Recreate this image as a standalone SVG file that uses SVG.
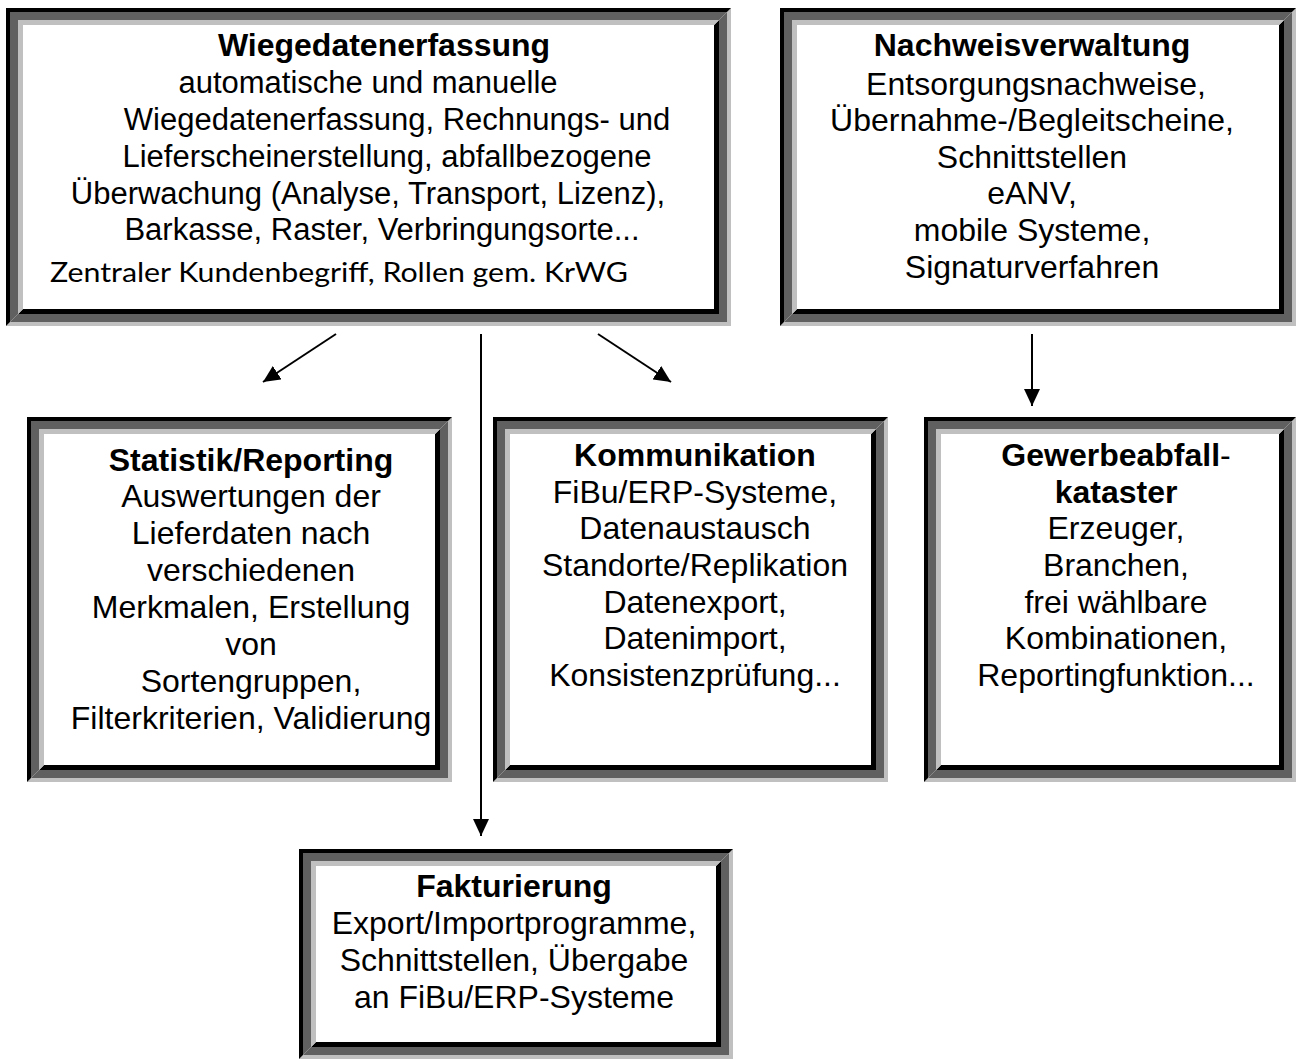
<svg xmlns="http://www.w3.org/2000/svg" width="1296" height="1060" viewBox="0 0 1296 1060">
<defs>
<style>
.k{fill:#000}.d{fill:#606060}.l{fill:#c0c0c0}
text{font-family:"Liberation Sans",Arial,sans-serif;fill:#000;text-anchor:middle}
.b{font-weight:bold}
.s30{font-size:31px}.s31{font-size:32px}
.gill{font-family:Lato,"Open Sans",sans-serif;font-size:26px;text-anchor:start}
.con line{stroke:#000;stroke-width:2}
</style>
<marker id="ah" markerUnits="userSpaceOnUse" markerWidth="18" markerHeight="16" refX="17" refY="8" orient="auto">
<path d="M0,0 L17,8 L0,16 z" fill="#000"/>
</marker>
</defs>
<rect width="1296" height="1060" fill="#fff"/>

<g id="wiegedatenerfassung">
<polygon class="l" points="731,8 731,326 6,326 10,322 727,322 727,12"/>
<polygon class="d" points="727,12 727,322 10,322 18,314 719,314 719,20"/>
<polygon class="k" points="719,20 719,314 18,314 23,309 714,309 714,25"/>
<polygon class="k" points="6,326 6,8 731,8 727,12 10,12 10,322"/>
<polygon class="d" points="10,322 10,12 727,12 719,20 18,20 18,314"/>
<polygon class="l" points="18,314 18,20 719,20 714,25 23,25 23,309"/>
<text class="b s31" x="384" y="56">Wiegedatenerfassung</text>
<text class="s30" x="368" y="93">automatische und manuelle</text>
<text class="s30" x="397" y="130">Wiegedatenerfassung, Rechnungs- und</text>
<text class="s30" x="387" y="167">Lieferscheinerstellung, abfallbezogene</text>
<text class="s30" x="368" y="204">Überwachung (Analyse, Transport, Lizenz),</text>
<text class="s30" x="382" y="240">Barkasse, Raster, Verbringungsorte...</text>
<text class="gill" x="50" y="282" textLength="578" lengthAdjust="spacingAndGlyphs">Zentraler Kundenbegriff, Rollen gem. KrWG</text>
</g>

<g id="nachweisverwaltung">
<polygon class="l" points="1296,8 1296,326 780,326 784,322 1292,322 1292,12"/>
<polygon class="d" points="1292,12 1292,322 784,322 792,314 1284,314 1284,20"/>
<polygon class="k" points="1284,20 1284,314 792,314 797,309 1279,309 1279,25"/>
<polygon class="k" points="780,326 780,8 1296,8 1292,12 784,12 784,322"/>
<polygon class="d" points="784,322 784,12 1292,12 1284,20 792,20 792,314"/>
<polygon class="l" points="792,314 792,20 1284,20 1279,25 797,25 797,309"/>
<text class="b s31" x="1032" y="56">Nachweisverwaltung</text>
<text class="s31" x="1036" y="95">Entsorgungsnachweise,</text>
<text class="s31" x="1032" y="131">Übernahme-/Begleitscheine,</text>
<text class="s31" x="1032" y="168">Schnittstellen</text>
<text class="s31" x="1032" y="204">eANV,</text>
<text class="s31" x="1032" y="241">mobile Systeme,</text>
<text class="s31" x="1032" y="278">Signaturverfahren</text>
</g>

<g id="statistik">
<polygon class="l" points="452,417 452,782 27,782 31,778 448,778 448,421"/>
<polygon class="d" points="448,421 448,778 31,778 39,770 440,770 440,429"/>
<polygon class="k" points="440,429 440,770 39,770 44,765 435,765 435,434"/>
<polygon class="k" points="27,782 27,417 452,417 448,421 31,421 31,778"/>
<polygon class="d" points="31,778 31,421 448,421 440,429 39,429 39,770"/>
<polygon class="l" points="39,770 39,429 440,429 435,434 44,434 44,765"/>
<text class="b s31" x="251" y="471">Statistik/Reporting</text>
<text class="s31" x="251" y="507">Auswertungen der</text>
<text class="s31" x="251" y="544">Lieferdaten nach</text>
<text class="s31" x="251" y="581">verschiedenen</text>
<text class="s31" x="251" y="618">Merkmalen, Erstellung</text>
<text class="s31" x="251" y="655">von</text>
<text class="s31" x="251" y="692">Sortengruppen,</text>
<text class="s31" x="251" y="729">Filterkriterien, Validierung</text>
</g>

<g id="kommunikation">
<polygon class="l" points="888,417 888,782 493,782 497,778 884,778 884,421"/>
<polygon class="d" points="884,421 884,778 497,778 505,770 876,770 876,429"/>
<polygon class="k" points="876,429 876,770 505,770 510,765 871,765 871,434"/>
<polygon class="k" points="493,782 493,417 888,417 884,421 497,421 497,778"/>
<polygon class="d" points="497,778 497,421 884,421 876,429 505,429 505,770"/>
<polygon class="l" points="505,770 505,429 876,429 871,434 510,434 510,765"/>
<text class="b s31" x="695" y="466">Kommunikation</text>
<text class="s31" x="695" y="503">FiBu/ERP-Systeme,</text>
<text class="s31" x="695" y="539">Datenaustausch</text>
<text class="s31" x="695" y="576">Standorte/Replikation</text>
<text class="s31" x="695" y="613">Datenexport,</text>
<text class="s31" x="695" y="649">Datenimport,</text>
<text class="s31" x="695" y="686">Konsistenzprüfung...</text>
</g>

<g id="gewerbeabfallkataster">
<polygon class="l" points="1296,417 1296,782 924,782 928,778 1292,778 1292,421"/>
<polygon class="d" points="1292,421 1292,778 928,778 936,770 1284,770 1284,429"/>
<polygon class="k" points="1284,429 1284,770 936,770 941,765 1279,765 1279,434"/>
<polygon class="k" points="924,782 924,417 1296,417 1292,421 928,421 928,778"/>
<polygon class="d" points="928,778 928,421 1292,421 1284,429 936,429 936,770"/>
<polygon class="l" points="936,770 936,429 1284,429 1279,434 941,434 941,765"/>
<text class="s31" x="1116" y="466"><tspan class="b">Gewerbeabfall</tspan>-</text>
<text class="b s31" x="1116" y="503">kataster</text>
<text class="s31" x="1116" y="539">Erzeuger,</text>
<text class="s31" x="1116" y="576">Branchen,</text>
<text class="s31" x="1116" y="613">frei wählbare</text>
<text class="s31" x="1116" y="649">Kombinationen,</text>
<text class="s31" x="1116" y="686">Reportingfunktion...</text>
</g>

<g id="fakturierung">
<polygon class="l" points="733,849 733,1059 299,1059 303,1055 729,1055 729,853"/>
<polygon class="d" points="729,853 729,1055 303,1055 311,1047 721,1047 721,861"/>
<polygon class="k" points="721,861 721,1047 311,1047 316,1042 716,1042 716,866"/>
<polygon class="k" points="299,1059 299,849 733,849 729,853 303,853 303,1055"/>
<polygon class="d" points="303,1055 303,853 729,853 721,861 311,861 311,1047"/>
<polygon class="l" points="311,1047 311,861 721,861 716,866 316,866 316,1042"/>
<text class="b s31" x="514" y="897">Fakturierung</text>
<text class="s31" x="514" y="934">Export/Importprogramme,</text>
<text class="s31" x="514" y="971">Schnittstellen, Übergabe</text>
<text class="s31" x="514" y="1008">an FiBu/ERP-Systeme</text>
</g>

<g id="connectors" class="con">
<line x1="336" y1="334" x2="263" y2="382" marker-end="url(#ah)"/>
<line x1="598" y1="334" x2="671" y2="382" marker-end="url(#ah)"/>
<line x1="481" y1="334" x2="481" y2="836" marker-end="url(#ah)"/>
<line x1="1032" y1="334" x2="1032" y2="406" marker-end="url(#ah)"/>
</g>
</svg>
